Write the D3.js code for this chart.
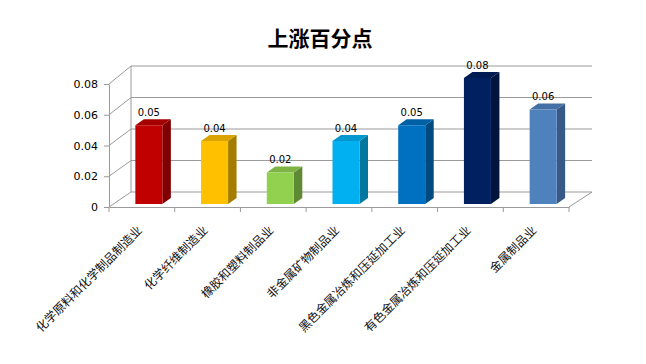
<!DOCTYPE html>
<html><head><meta charset="utf-8">
<script src="https://cdn.jsdelivr.net/npm/d3@7"></script>
<style>body{margin:0;background:#fff}svg{display:block}</style>
</head><body><svg id="c" width="646" height="364"></svg>
<script>
const title = "上涨百分点";
const categories = ["化学原料和化学制品制造业","化学纤维制造业","橡胶和塑料制品业","非金属矿物制品业","黑色金属冶炼和压延加工业","有色金属冶炼和压延加工业","金属制品业"];
const values = [0.05,0.04,0.02,0.04,0.05,0.08,0.06];
const valueLabels = ["0.05","0.04","0.02","0.04","0.05","0.08","0.06"];
const yTicks = [0,0.02,0.04,0.06,0.08];
const yTickLabels = ["0","0.02","0.04","0.06","0.08"];
const frontColors = ["#C00000","#FFC000","#92D050","#00B0F0","#0070C0","#002060","#4F81BD"];
const topColors   = ["#A50000","#D9A300","#7DB444","#0098CF","#0060A5","#001A52","#4470A5"];
const sideColors  = ["#7F0000","#A67C00","#5F8A33","#00779F","#004A80","#00143D","#365A85"];

const svg = d3.select("#c");
const x = d3.scaleBand().domain(categories).range([109,569]);
const yFront = d3.scaleLinear().domain([0,0.08]).range([207,84]);
const yBack = d3.scaleLinear().domain([0,0.08]).range([192,66]);
const yBar = d3.scaleLinear().domain([0,0.08]).range([204,78]);
const backX0 = 131, backX1 = 592, gridColor = "#9a9a9a";

// back wall gridlines
svg.append("g").selectAll("line").data(yTicks).join("line")
  .attr("x1",backX0).attr("x2",backX1)
  .attr("y1",d=>yBack(d)).attr("y2",d=>yBack(d))
  .attr("stroke",gridColor).attr("stroke-width",1);
// left wall diagonals
svg.append("g").selectAll("line").data(yTicks).join("line")
  .attr("x1",109).attr("y1",d=>yFront(d))
  .attr("x2",backX0).attr("y2",d=>yBack(d))
  .attr("stroke",gridColor);
// back wall left vertical
svg.append("line").attr("x1",backX0).attr("x2",backX0)
  .attr("y1",yBack(0)).attr("y2",yBack(0.08)).attr("stroke",gridColor);
// floor right diagonal
svg.append("line").attr("x1",569).attr("y1",yFront(0)).attr("x2",backX1).attr("y2",yBack(0)).attr("stroke",gridColor);

// y axis
const yAxis = d3.axisLeft(yFront).tickValues(yTicks).tickFormat((d,i)=>yTickLabels[i]).tickSize(5).tickSizeOuter(0).tickPadding(6);
const gy = svg.append("g").attr("transform","translate(109,0)").call(yAxis);
gy.select(".domain").attr("stroke",gridColor);
gy.selectAll(".tick line").attr("stroke",gridColor);
gy.selectAll(".tick text").attr("font-family","DejaVu Sans, Verdana, sans-serif").attr("font-size","11px").attr("fill","#000");

// x axis
const xAxis = d3.axisBottom(x).tickSize(0).tickFormat("");
const gx = svg.append("g").attr("transform",`translate(0,${yFront(0)})`).call(xAxis);
gx.select(".domain").attr("stroke",gridColor);
const bounds = [...categories.map(c=>x(c)), x(categories[6])+x.bandwidth()];
gx.selectAll(".sep").data(bounds).join("line").attr("class","sep")
  .attr("x1",d=>d).attr("x2",d=>d).attr("y1",0).attr("y2",5).attr("stroke",gridColor);

// bars
const bw = 27, dx = 8.5, dy = -6;
const bars = svg.append("g").selectAll("g").data(values).join("g");
const bx = (i)=> x(categories[i]) + x.bandwidth()/2 - 6.5;
bars.append("path").attr("fill",(d,i)=>sideColors[i])
  .attr("d",(d,i)=>{const x0=bx(i)+bw,yt=yBar(d),yb=yBar(0);return `M${x0},${yb}L${x0+dx},${yb+dy}L${x0+dx},${yt+dy}L${x0},${yt}Z`;});
bars.append("path").attr("fill",(d,i)=>topColors[i])
  .attr("d",(d,i)=>{const x0=bx(i),yt=yBar(d);return `M${x0},${yt}L${x0+dx},${yt+dy}L${x0+bw+dx},${yt+dy}L${x0+bw},${yt}Z`;});
bars.append("rect").attr("fill",(d,i)=>frontColors[i])
  .attr("x",(d,i)=>bx(i)).attr("width",bw)
  .attr("y",d=>yBar(d)).attr("height",d=>yBar(0)-yBar(d));
bars.append("text").attr("x",(d,i)=>bx(i)+bw/2).attr("y",d=>yBar(d)+dy-3.5)
  .attr("text-anchor","middle").attr("font-family","DejaVu Sans, Verdana, sans-serif")
  .attr("font-size","10px").attr("fill","#000").text((d,i)=>valueLabels[i]);

// category labels
svg.append("g").selectAll("text").data(categories).join("text")
  .attr("transform",c=>`translate(${x(c)+x.bandwidth()/2+1},${231}) rotate(-45)`)
  .attr("text-anchor","end").attr("font-family","Noto Sans CJK SC, sans-serif")
  .attr("font-size","12px").attr("fill","#111").text(c=>c);

// title
svg.append("text").attr("x",320).attr("y",46).attr("text-anchor","middle")
  .attr("font-family","Noto Sans CJK SC, sans-serif").attr("font-weight","bold")
  .attr("font-size","21px").attr("fill","#000").text(title);
</script></body></html>
